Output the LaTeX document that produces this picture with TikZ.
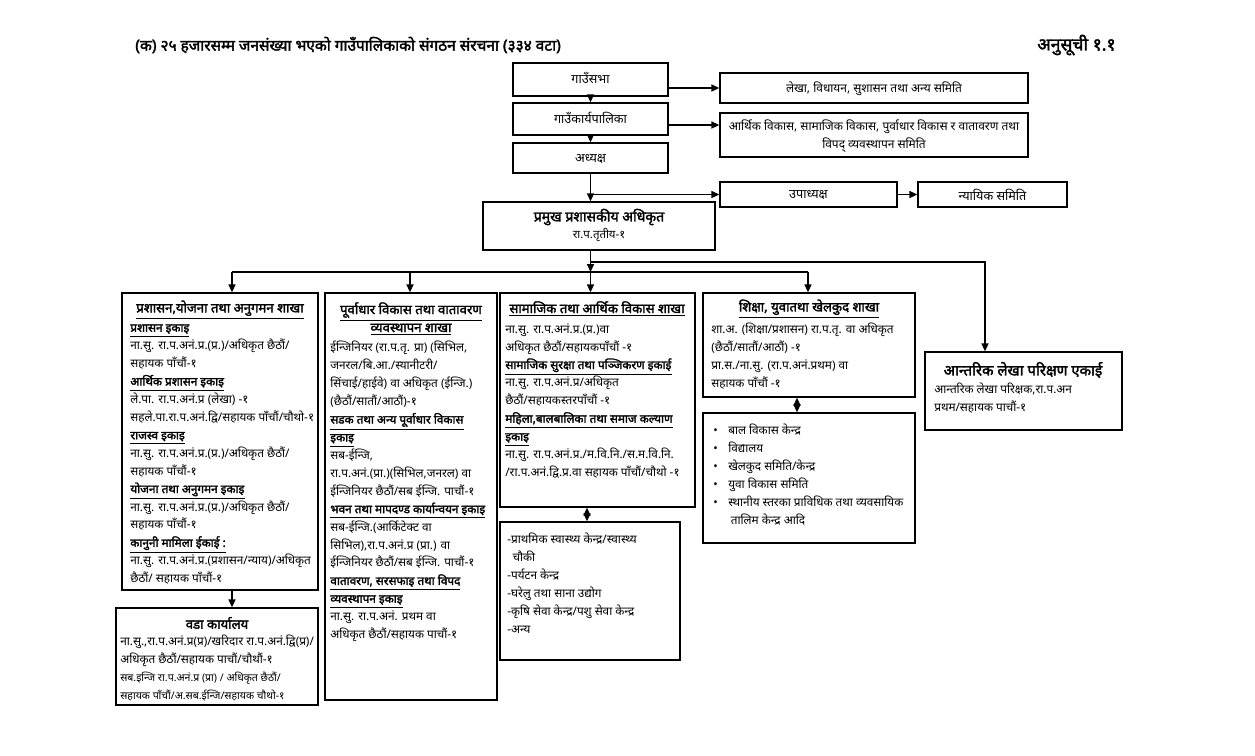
\documentclass[tikz,border=0pt]{standalone}
\usepackage{fontspec}
\setmainfont{Noto Sans}[Script=Devanagari, BoldFont={Noto Sans}, BoldFeatures={FakeBold=2.2}]
\usetikzlibrary{arrows.meta, positioning, fit}
\newcommand{\hd}[1]{\underline{\textbf{#1}}}
\lineskiplimit=-6pt

\begin{document}
\begin{tikzpicture}[
  x=0.02cm, y=-0.02cm,
  >={Triangle[length=4.5pt,width=4pt]},
  box/.style={draw, line width=0.8pt, inner sep=0pt},
  lbl/.style={font=\fontsize{7.2}{10.2}\selectfont, align=center, inner sep=0pt},
  head/.style={font=\fontsize{7.5}{10.2}\selectfont\bfseries, inner sep=0pt},
  body/.style={font=\fontsize{6.7}{10.2}\selectfont, align=left, anchor=north west, inner sep=0pt},
  link/.style={->, line width=0.8pt},
  both/.style={<->, line width=0.8pt},
  busline/.style={line width=0.8pt}
]

\useasboundingbox (0,0) rectangle (1255,755);

% ---------------------------------------------------------
% heading
% ---------------------------------------------------------
\node[font=\fontsize{8.8}{11}\selectfont\bfseries, anchor=west, inner sep=0pt] (title) at (135,45)
{(क) २५ हजारसम्म जनसंख्या भएको गाउँपालिकाको संगठन संरचना (३३४ वटा)};
\node[font=\fontsize{10}{12}\selectfont\bfseries, anchor=east, inner sep=0pt] (annex) at (1116,45)
{अनुसूची १.१};

% ---------------------------------------------------------
% upper chain
% ---------------------------------------------------------
\node[box, fit={(513,63) (668,96)}] (sabha) {};
\node[box, fit={(513,103) (668,135)}] (karya) {};
\node[box, fit={(513,143) (668,173)}] (adhyaksha) {};
\node[box, fit={(720,73) (1028,103)}] (lekha) {};
\node[box, fit={(720,113) (1028,157)}] (arthik) {};
\node[box, fit={(720,182) (897,207)}] (upa) {};
\node[box, fit={(918,182) (1067,207)}] (nyayik) {};
\node[box, fit={(483,202) (715,250)}] (pramukh) {};

\node[lbl] (sabhaL) at (590.5,78) {गाउँसभा};
\node[lbl] (karyaL) at (590.5,118) {गाउँकार्यपालिका};
\node[lbl] (adhyakshaL) at (590.5,159) {अध्यक्ष};
\node[lbl, font=\fontsize{6.8}{10.2}\selectfont] (lekhaL) at (874,89) {लेखा, विधायन, सुशासन तथा अन्य समिति};
\node[lbl, font=\fontsize{6.8}{10.2}\selectfont] (arthikL) at (874,136)
{आर्थिक विकास, सामाजिक विकास, पुर्वाधार विकास र वातावरण तथा\\विपद् व्यवस्थापन समिति};
\node[lbl] (upaL) at (808.5,195) {उपाध्यक्ष};
\node[lbl] (nyayikL) at (992.5,195) {न्यायिक समिति};
\node[head, font=\fontsize{8}{10}\selectfont\bfseries] (pramukhT) at (599,217) {प्रमुख प्रशासकीय अधिकृत};
\node[lbl, font=\fontsize{6.5}{8}\selectfont] (pramukhS) at (599,235) {रा.प.तृतीय-१};

\draw[link] (sabha) -- (karya);
\draw[link] (karya) -- (adhyaksha);
\draw[link] (lekha.west -| sabha.east) -- (lekha.west);
\draw[link] (karya.east |- 0,125) -- (arthik.west |- 0,125);
\draw[link] (adhyaksha.south) -- (adhyaksha.south |- pramukh.north);
\draw[link] (adhyaksha.south |- upa.west) -- (upa.west);
\draw[link] (upa) -- (nyayik);

% ---------------------------------------------------------
% branches
% ---------------------------------------------------------
\coordinate (tapA) at (232,272);
\coordinate (tapB) at (410,272);
\coordinate (tapC) at (590.5,272);
\coordinate (tapD) at (808,272);
\coordinate (split) at (590.5,262);
\coordinate (tapE) at (985,262);

\node[box, fit={(122,293) (318,590)}] (admin) {};
\node[box, fit={(116,608) (318,705)}] (ward) {};
\node[box, fit={(325,293) (497,700)}] (infra) {};
\node[box, fit={(500,293) (695,507)}] (social) {};
\node[box, fit={(500,522) (680,660)}] (socialX) {};
\node[box, fit={(703,293) (915,397)}] (edu) {};
\node[box, fit={(703,413) (915,543)}] (eduX) {};
\node[box, fit={(925,352) (1122,430)}] (audit) {};

\draw[link] (pramukh.south -| tapC) -- (tapC);
\draw[busline] (tapA) -- (tapD);
\draw[link] (tapA) -- (tapA |- admin.north);
\draw[link] (tapB) -- (tapB |- infra.north);
\draw[link] (tapC) -- (tapC |- social.north);
\draw[link] (tapD) -- (tapD |- edu.north);
\draw[link] (split) -- (tapE) -- (tapE |- audit.north);
\draw[link] (tapA |- admin.south) -- (tapA |- ward.north);
\draw[both] (socialX.north -| 587,0) -- (social.south -| 587,0);
\draw[both] (eduX.north -| 797,0) -- (edu.south -| 797,0);

% admin branch
\node[head] (adminT) at (220,310) {\underline{प्रशासन,योजना तथा अनुगमन शाखा}};
\node[body] (adminB) at (130,324)
{\hd{प्रशासन इकाइ}\\
ना.सु. रा.प.अनं.प्र.(प्र.)/अधिकृत छैठौं/\\
सहायक पाँचौं-१\\
\hd{आर्थिक प्रशासन इकाइ}\\
ले.पा. रा.प.अनं.प्र (लेखा) -१\\
सहले.पा.रा.प.अनं.द्वि/सहायक पाँचौं/चौथो-१\\
\hd{राजस्व इकाइ}\\
ना.सु. रा.प.अनं.प्र.(प्र.)/अधिकृत छैठौं/\\
सहायक पाँचौं-१\\
\hd{योजना तथा अनुगमन इकाइ}\\
ना.सु. रा.प.अनं.प्र.(प्र.)/अधिकृत छैठौं/\\
सहायक पाँचौं-१\\
\hd{कानुनी मामिला ईकाई :}\\
ना.सु. रा.प.अनं.प्र.(प्रशासन/न्याय)/अधिकृत\\
छैठौं/ सहायक पाँचौं-१};

% ward office
\node[head] (wardT) at (217,623) {वडा कार्यालय};
\node[body] (wardB) at (120,635)
{ना.सु.,रा.प.अनं.प्र(प्र)/खरिदार रा.प.अनं.द्वि(प्र)/\\
अधिकृत छैठौं/सहायक पाचौं/चौथौं-१\\
{\fontsize{6}{9.6}\selectfont सब.इन्जि रा.प.अनं.प्र (प्रा) / अधिकृत छैठौं/}\\
{\fontsize{6}{9.6}\selectfont सहायक पाँचौं/अ.सब.ईन्जि/सहायक चौथो-१}};

% infrastructure branch
\node[head, align=center] (infraT) at (411,319)
{\underline{पूर्वाधार विकास तथा वातावरण}\\\underline{व्यवस्थापन शाखा}};
\node[body] (infraB) at (330,341)
{ईन्जिनियर (रा.प.तृ. प्रा) (सिभिल,\\
जनरल/बि.आ./स्यानीटरी/\\
सिंचाई/हाईवे) वा अधिकृत (ईन्जि.)\\
(छैठौं/सातौं/आठौं)-१\\
\hd{सडक तथा अन्य पूर्वाधार विकास}\\
\hd{इकाइ}\\
सब-ईन्जि,\\
रा.प.अनं.(प्रा.)(सिभिल,जनरल) वा\\
ईन्जिनियर छैठौं/सब ईन्जि. पाचौं-१\\
\hd{भवन तथा मापदण्ड कार्यान्वयन इकाइ}\\
सब-ईन्जि.(आर्किटेक्ट वा\\
सिभिल),रा.प.अनं.प्र (प्रा.) वा\\
ईन्जिनियर छैठौं/सब ईन्जि. पाचौं-१\\
\hd{वातावरण, सरसफाइ तथा विपद}\\
\hd{व्यवस्थापन इकाइ}\\
ना.सु. रा.प.अनं. प्रथम वा\\
अधिकृत छैठौं/सहायक पाचौं-१};

% social branch
\node[head] (socialT) at (597,309) {\underline{सामाजिक तथा आर्थिक विकास शाखा}};
\node[body] (socialB) at (505,323)
{ना.सु. रा.प.अनं.प्र.(प्र.)वा\\
अधिकृत छैठौं/सहायकपाँचौं -१\\
\hd{सामाजिक सुरक्षा तथा पञ्जिकरण इकाई}\\
ना.सु. रा.प.अनं.प्र/अधिकृत\\
छैठौं/सहायकस्तरपाँचौं -१\\
\hd{महिला,बालबालिका तथा समाज कल्याण}\\
\hd{इकाइ}\\
ना.सु. रा.प.अनं.प्र./म.वि.नि./स.म.वि.नि.\\
/रा.प.अनं.द्वि.प्र.वा सहायक पाँचौं/चौथो -१};
\node[body] (socialXB) at (507,533)
{-प्राथमिक स्वास्थ्य केन्द्र/स्वास्थ्य\\
\hspace*{3pt}चौकी\\
-पर्यटन केन्द्र\\
-घरेलु तथा साना उद्योग\\
-कृषि सेवा केन्द्र/पशु सेवा केन्द्र\\
-अन्य};

% education branch
\node[head] (eduT) at (809,309) {\underline{शिक्षा, युवातथा खेलकुद शाखा}};
\node[body] (eduB) at (711,323)
{शा.अ. (शिक्षा/प्रशासन) रा.प.तृ. वा अधिकृत\\
(छैठौं/सातौं/आठौं) -१\\
प्रा.स./ना.सु. (रा.प.अनं.प्रथम) वा\\
सहायक पाँचौं -१};
\node[body] (eduXB) at (713,424)
{\textbullet\hspace{6pt}बाल विकास केन्द्र\\
\textbullet\hspace{6pt}विद्यालय\\
\textbullet\hspace{6pt}खेलकुद समिति/केन्द्र\\
\textbullet\hspace{6pt}युवा विकास समिति\\
\textbullet\hspace{6pt}स्थानीय स्तरका प्राविधिक तथा व्यवसायिक\\
\hspace*{10pt}तालिम केन्द्र आदि};

% internal audit
\node[head, font=\fontsize{8.5}{10.2}\selectfont\bfseries] (auditT) at (1023,370) {आन्तरिक लेखा परिक्षण एकाई};
\node[body] (auditB) at (934,383)
{आन्तरिक लेखा परिक्षक,रा.प.अन\\
प्रथम/सहायक पाचौं-१};

\end{tikzpicture}
\end{document}
